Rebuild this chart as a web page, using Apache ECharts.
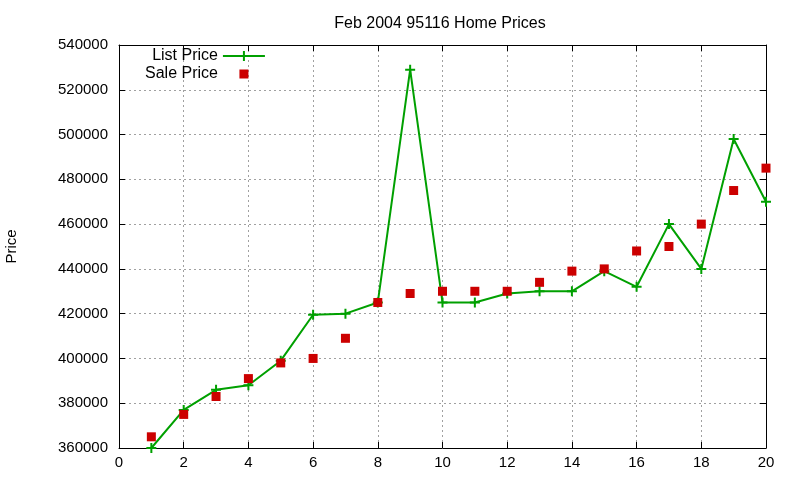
<!DOCTYPE html>
<html>
<head>
<meta charset="utf-8">
<script src="https://cdn.jsdelivr.net/npm/echarts@6/dist/echarts.min.js"></script>
<style>
  html, body { margin: 0; padding: 0; background: #fff; }
  #main { width: 800px; height: 480px; }
</style>
</head>
<body>
<div id="main"></div>
<script>
// data
var months = [1, 2, 3, 4, 5, 6, 7, 8, 9, 10, 11, 12, 13, 14, 15, 16, 17, 18, 19, 20];
var listPrice = [360000, 377000, 386000, 388000, 399000, 419500, 420000, 425000, 529000, 425000,
                 425000, 429000, 430000, 430000, 439000, 432000, 460000, 440000, 498000, 470000];
var salePrice = [365000, 375000, 383000, 391000, 398000, 400000, 409000, 425000, 429000, 430000,
                 430000, 430000, 434000, 439000, 440000, 448000, 450000, 460000, 475000, 485000];

var font = 'Liberation Sans, Arial, sans-serif';
var plus = 'path://M0,4H10V6H0Z M4,0H6V10H4Z';
// legend icons: line with a plus, and a small square in the middle of the same box
var plusLegend = 'path://M0,6H42V8H0Z M20,2H22V12H20Z';
var squareLegend = 'path://M0,0L0.01,0M42,14L41.99,14M16.5,2.5H25.5V11.5H16.5Z';

function pairs(xs, ys) {
    return xs.map(function (x, i) { return [x, ys[i]]; });
}

var myChart = echarts.init(document.getElementById('main'));

var gridLine = { show: true, lineStyle: { color: '#a0a0a0', type: [2, 3], width: 1 } };
var axisLine = { show: true, onZero: false, lineStyle: { color: '#000', width: 1 } };
var tick = { show: true, inside: true, length: 6, lineStyle: { color: '#000' } };

var option = {
    backgroundColor: '#fff',
    animation: false,
    title: {
        text: 'Feb 2004 95116 Home Prices',
        left: 435, top: 11, textAlign: 'center',
        textStyle: { fontFamily: font, fontSize: 16, fontWeight: 'normal', color: '#000' }
    },
    legend: {
        left: 140, top: 43,
        orient: 'vertical',
        align: 'right',
        itemGap: 2,
        itemWidth: 42, itemHeight: 14,
        textStyle: { fontFamily: font, fontSize: 16, color: '#000' },
        data: [
            { name: 'List Price', icon: plusLegend, itemStyle: { color: '#00a000' } },
            { name: 'Sale Price', icon: squareLegend, itemStyle: { color: '#cc0000' } }
        ]
    },
    grid: { left: 119, right: 34, top: 45, bottom: 32, outerBoundsMode: 'none' },
    xAxis: [{
        type: 'value', min: 0, max: 20, interval: 2,
        axisLine: axisLine, axisTick: tick, splitLine: gridLine,
        axisLabel: { fontFamily: font, fontSize: 15, color: '#000', margin: 7 }
    }, {
        type: 'value', min: 0, max: 20, interval: 2, position: 'top',
        axisLine: axisLine, axisTick: tick, splitLine: { show: false },
        axisLabel: { show: false }
    }],
    yAxis: [{
        type: 'value', min: 360000, max: 540000, interval: 20000,
        name: 'Price', nameLocation: 'middle', nameGap: 100, nameRotate: 90,
        nameTextStyle: { fontFamily: font, fontSize: 15, color: '#000' },
        axisLine: axisLine, axisTick: tick, splitLine: gridLine,
        axisLabel: { fontFamily: font, fontSize: 15, color: '#000', margin: 11,
                     formatter: function (v) { return String(v); } }
    }, {
        type: 'value', min: 360000, max: 540000, interval: 20000, position: 'right',
        axisLine: axisLine, axisTick: tick, splitLine: { show: false },
        axisLabel: { show: false }
    }],
    series: [
        {
            name: 'List Price',
            type: 'line',
            data: pairs(months, listPrice),
            symbol: plus,
            symbolSize: 10,
            lineStyle: { color: '#00a000', width: 2 },
            itemStyle: { color: '#00a000', opacity: 1 },
            z: 3
        },
        {
            name: 'Sale Price',
            type: 'scatter',
            data: pairs(months, salePrice),
            symbol: 'rect',
            symbolSize: 9,
            itemStyle: { color: '#cc0000', opacity: 1 },
            z: 4
        }
    ]
};

myChart.setOption(option);
</script>
</body>
</html>
